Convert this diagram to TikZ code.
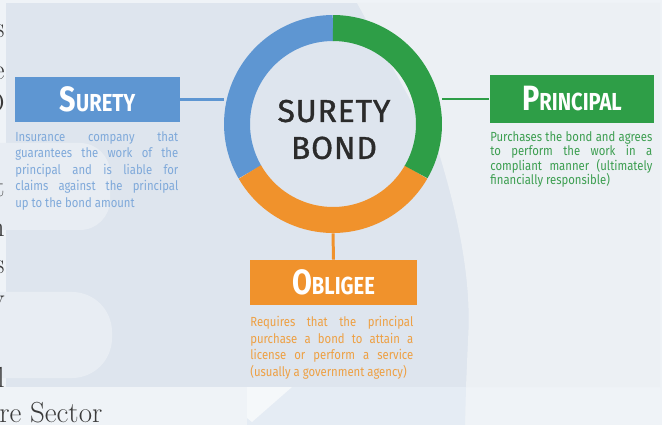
\documentclass[tikz,border=0pt]{standalone}
\usepackage{fontspec}
\newfontfamily\dinfont{Fira Sans}[LetterSpace=3, FakeBold=1.2]
\newfontfamily\headfont{Fira Sans}[FakeStretch=0.82]
\newfontfamily\bodyfont{Fira Sans}[FakeStretch=0.86]

\definecolor{pagebg}{HTML}{EFF3F7}
\definecolor{panel}{HTML}{DEE5EE}
\definecolor{lightzone}{HTML}{ECF0F4}
\definecolor{barzone}{HTML}{E8EDF3}
\definecolor{stripzone}{HTML}{E5ECF4}
\definecolor{pagetext}{HTML}{3A3A3A}
\definecolor{bondgray}{HTML}{2B2B2B}
\definecolor{suretyblue}{HTML}{5E96D2}
\definecolor{principalgreen}{HTML}{2E9E47}
\definecolor{obligeeorange}{HTML}{F0922C}
\definecolor{suretytext}{HTML}{7FA9DA}
\definecolor{principaltext}{HTML}{3C9E50}
\definecolor{obligeetext}{HTML}{EEA043}

% 見出し (大きい頭文字 + 小さい残り)
\newcommand{\hdr}[2]{{\fontsize{20}{20}\selectfont #1}{\fontsize{14}{14}\selectfont #2}}

\begin{document}
\begin{tikzpicture}[x=0.02cm, y=-0.02cm,
    tag/.style={minimum width=3.3cm, minimum height=0.9cm, inner sep=0pt,
      text=white, font=\headfont\bfseries},
    desc/.style={anchor=north west, inner sep=0pt, text width=3.26cm,
      align=justify, font=\bodyfont\fontsize{7.5}{9.4}\selectfont},
    link/.style={line width=1.7pt},
    seg/.style={line width=0.52cm},
    frag/.style={anchor=east, inner sep=0pt, text=pagetext,
      font=\fontsize{16.5}{16.5}\selectfont}]
    \useasboundingbox (0,0) rectangle (662,425);

    % 背景
    \fill[pagebg] (0,0) rectangle (662,425);
    \fill[panel] (6,3) rectangle (660,387);
    \fill[lightzone] (357,3) -- (438,150)
      .. controls (458,215) and (472,280) .. (468,340) -- (466,387)
      -- (660,387) -- (660,3) -- cycle;
    \fill[barzone] (0,143) [rounded corners=0.6cm] -- (110,143) -- (110,230)
      [sharp corners] -- (0,230) -- cycle;
    \fill[barzone] (0,292) [rounded corners=0.8cm] -- (112,292) -- (112,378)
      [sharp corners] -- (0,378) -- cycle;
    \fill[stripzone] (247,387) -- (466,387) -- (465,425) -- (247,425) -- cycle;
    \fill[pagebg!60!white] (247,387) -- (292,387) -- (252,422) -- (247,418) -- cycle;

    % 本文の切れ端
    \node[frag] (f1) at (5,31) {s};
    \node[frag] (f2) at (5,73) {e};
    \node[frag] (f3) at (5,103) {D};
    \node[frag] (f4) at (5,188) {t};
    \node[frag] (f5) at (5,230) {n};
    \node[frag] (f6) at (5,267) {s};
    \node[frag] (f7) at (5,305) {y};
    \node[frag] (f8) at (5,377) {l};
    \node[anchor=base west, inner sep=0pt, text=pagetext,
      font=\fontsize{16.5}{16.5}\selectfont] (f9) at (-1,422) {re Sector};

    % 円
    \node[circle, minimum size=4.36cm, inner sep=0pt] (B) at (333,124) {};
    \node[font=\dinfont\fontsize{18}{21}\selectfont, text=bondgray,
      align=center, inner sep=0pt] (T) at (334,129.5) {SURETY\\BOND};

    % 箱
    \node[tag, fill=suretyblue] (S) at (97.5,99.5) {\hdr{S}{URETY}};
    \node[tag, fill=principalgreen, minimum height=0.95cm] (P) at (572,99) {\hdr{P}{RINCIPAL}};
    \node[tag, fill=obligeeorange, minimum width=3.34cm] (O) at (333.5,282.5) {\hdr{O}{BLIGEE}};

    % 線を引く
    \draw[link, suretyblue] (S.east) -- (S.east -| B.west);
    \draw[link, principalgreen] (P.west) -- (P.west -| B.east);
    \draw[link, obligeeorange] (O.north) -- (B.south);

    \draw[seg, suretyblue] (B.center) ++(90:1.92cm)
      arc[start angle=90, end angle=210, radius=1.92cm];
    \draw[seg, obligeeorange] (B.center) ++(210:1.92cm)
      arc[start angle=210, end angle=330, radius=1.92cm];
    \draw[seg, principalgreen] (B.center) ++(330:1.92cm)
      arc[start angle=330, end angle=450, radius=1.92cm];

    % 説明
    \node[desc, text=suretytext] (s1) at (15,131)
      {Insurance company that\linebreak guarantees the work of the\linebreak
       principal and is liable for\linebreak claims against the principal\linebreak
       up to the bond amount};
    \node[desc, text=principaltext, text width=3.24cm,
      font=\bodyfont\fontsize{7.5}{8.2}\selectfont] (p1) at (490,131)
      {Purchases the bond and agrees\linebreak to perform the work in a\linebreak
       compliant manner (ultimately\linebreak financially responsible)};
    \node[desc, text=obligeetext] (o1) at (250,316)
      {Requires that the principal\linebreak purchase a bond to attain a\linebreak
       license or perform a service\linebreak (usually a government agency)};
  \end{tikzpicture}
\end{document}
